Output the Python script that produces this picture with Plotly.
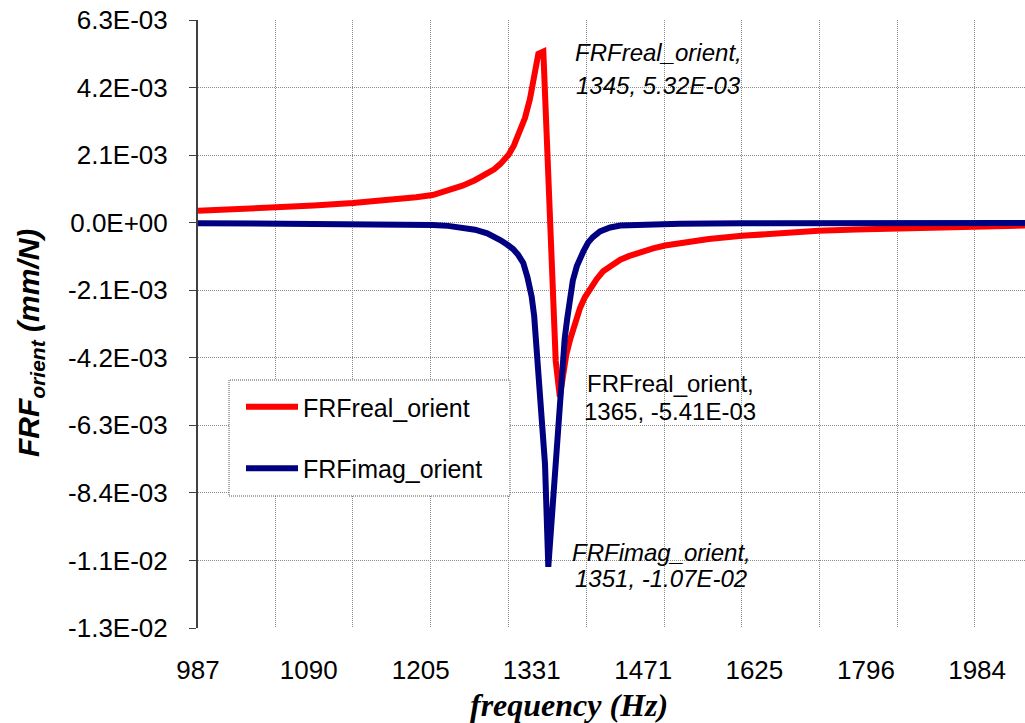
import plotly.graph_objects as go
import math

# ---- data ----
freq_real = [987, 1020, 1058, 1095, 1134, 1160, 1180, 1200, 1218, 1235, 1251, 1265, 1279, 1287,
             1294, 1299, 1304, 1310, 1317, 1323, 1329, 1334, 1339, 1345,
             1360, 1365, 1369, 1373, 1378, 1384, 1390, 1396, 1403, 1411, 1419, 1430, 1441, 1452,
             1463, 1484, 1500, 1520, 1560, 1607, 1660, 1721, 1780, 1844, 1910, 1977, 2071]
frf_real = [0.37e-3, 0.41e-3, 0.46e-3, 0.53e-3, 0.61e-3, 0.67e-3, 0.72e-3, 0.79e-3, 0.86e-3,
            0.99e-3, 1.15e-3, 1.32e-3, 1.52e-3, 1.66e-3,
            1.82e-3, 1.96e-3, 2.12e-3, 2.40e-3, 2.80e-3, 3.25e-3, 3.85e-3, 4.50e-3, 5.25e-3, 5.32e-3,
            -4.30e-3, -5.41e-3, -4.67e-3, -4.10e-3, -3.60e-3, -3.05e-3, -2.65e-3, -2.32e-3,
            -2.03e-3, -1.75e-3, -1.51e-3, -1.31e-3, -1.15e-3, -1.04e-3,
            -0.95e-3, -0.80e-3, -0.71e-3, -0.64e-3, -0.51e-3, -0.41e-3, -0.32e-3, -0.25e-3,
            -0.21e-3, -0.18e-3, -0.15e-3, -0.12e-3, -0.09e-3]

freq_imag = [987, 1058, 1134, 1180, 1218, 1235, 1251, 1265, 1279, 1287, 1294, 1302, 1309, 1315,
             1321, 1326, 1331, 1334, 1337, 1343, 1347, 1351,
             1357, 1363, 1368, 1371, 1374, 1378, 1381, 1386, 1390, 1394, 1400, 1406, 1415, 1428,
             1441, 1460, 1484, 1520, 1607, 1721, 1844, 1977, 2071]
frf_imag = [-0.015e-3, -0.02e-3, -0.035e-3, -0.05e-3, -0.07e-3, -0.10e-3, -0.15e-3, -0.22e-3,
            -0.33e-3, -0.43e-3, -0.54e-3, -0.68e-3, -0.82e-3, -1.00e-3,
            -1.25e-3, -1.70e-3, -2.30e-3, -2.90e-3, -3.90e-3, -5.70e-3, -7.50e-3, -10.7e-3,
            -8.50e-3, -6.40e-3, -4.45e-3, -3.60e-3, -3.00e-3, -2.30e-3, -1.80e-3, -1.35e-3,
            -1.10e-3, -0.90e-3, -0.62e-3, -0.45e-3, -0.27e-3, -0.15e-3,
            -0.09e-3, -0.065e-3, -0.05e-3, -0.035e-3, -0.02e-3, -0.015e-3, -0.012e-3, -0.01e-3,
            -0.01e-3]

x_label_vals = [987, 1090, 1205, 1331, 1471, 1625, 1796, 1984]
x_grid_vals = [987, 1058, 1134, 1216, 1304, 1398, 1499, 1607, 1723, 1847, 1980]
y_tick_vals = [6.3e-3, 4.2e-3, 2.1e-3, 0.0, -2.1e-3, -4.2e-3, -6.3e-3, -8.4e-3, -10.5e-3, -12.6e-3]
y_tick_text = ["6.3E-03", "4.2E-03", "2.1E-03", "0.0E+00", "-2.1E-03", "-4.2E-03", "-6.3E-03",
               "-8.4E-03", "-1.1E-02", "-1.3E-02"]

# labelled points
peak_real = (1345, 5.32e-3)
min_real = (1365, -5.41e-3)
min_imag = (1351, -1.07e-2)

X_RANGE = [math.log10(987), math.log10(2071)]
Y_RANGE = [-12.6e-3, 6.3e-3]

ARIAL = "Liberation Sans, Arial, sans-serif"
TIMES = "Liberation Serif, Times New Roman, serif"

W, H = 1025, 723
ML, MR, MT, MB = 198, 0, 20, 95
PW, PH = W - ML - MR, H - MT - MB


def px(x):
    return (x - ML) / PW


def py(y):
    return (H - MB - y) / PH


fig = go.Figure()
fig.add_trace(go.Scatter(x=freq_real, y=frf_real, mode="lines", name="FRFreal_orient",
                         line=dict(color="#FF0000", width=6), legendgroup="a",
                         xaxis="x", yaxis="y"))
fig.add_trace(go.Scatter(x=freq_imag, y=frf_imag, mode="lines", name="FRFimag_orient",
                         line=dict(color="#000080", width=6), legendgroup="b",
                         xaxis="x2", yaxis="y"))

grid = dict(gridcolor="#8a8a8a", gridwidth=1, griddash="1px,1px")

fig.update_layout(
    width=W, height=H,
    margin=dict(l=ML, r=MR, t=MT, b=MB),
    paper_bgcolor="white", plot_bgcolor="white",
    font=dict(family=ARIAL, size=24, color="black"),
    showlegend=True,
    legend=dict(x=px(241), y=py(384), xanchor="left", yanchor="top",
                bgcolor="rgba(0,0,0,0)", borderwidth=0,
                font=dict(family=ARIAL, size=25, color="black"),
                traceorder="grouped", tracegroupgap=26, itemwidth=52),
    xaxis=dict(type="log", range=X_RANGE, tickvals=x_grid_vals, showticklabels=False,
               ticks="", showgrid=True, zeroline=False, showline=False, **grid),
    xaxis2=dict(type="log", range=X_RANGE, overlaying="x", anchor="y", side="bottom",
                tickvals=x_label_vals, ticktext=[str(v) for v in x_label_vals],
                showgrid=False, zeroline=False, showline=False, ticks="",
                ticklabelstandoff=24, tickfont=dict(family=ARIAL, size=26, color="black")),
    yaxis=dict(range=Y_RANGE, tickvals=y_tick_vals, ticktext=y_tick_text, showgrid=True,
               zeroline=False, showline=True, linecolor="#404040", linewidth=2,
               ticks="outside", ticklen=7, tickcolor="#404040", tickwidth=1,
               ticklabelstandoff=16, tickfont=dict(family=ARIAL, size=26, color="black"),
               **grid),
)

# legend box (dotted border, white fill)
fig.add_shape(type="rect", xref="paper", yref="paper",
              x0=px(229), x1=px(510), y0=py(496), y1=py(380),
              line=dict(color="#555555", width=1, dash="1px,1px"),
              fillcolor="white", layer="above")

annots = []
# axis titles
annots.append(dict(text="<b><i>frequency (Hz)</i></b>", xref="paper", yref="paper",
                   x=px(569), y=py(705), xanchor="center", yanchor="middle", showarrow=False,
                   font=dict(family=TIMES, size=32, color="black")))
annots.append(dict(text="<b><i>FRF<sub>orient</sub> (mm/N)</i></b>", xref="paper", yref="paper",
                   x=px(30), y=py(343), xanchor="center", yanchor="middle", showarrow=False,
                   textangle=-90, font=dict(family=ARIAL, size=30, color="black")))


def label(name, pt, cx, y1, y2, italic):
    l1 = name + ","
    l2 = f"{pt[0]}, {pt[1]:.2E}"
    if italic:
        l1, l2 = f"<i>{l1}</i>", f"<i>{l2}</i>"
    for t, yy in ((l1, y1), (l2, y2)):
        annots.append(dict(text=t, xref="paper", yref="paper", x=px(cx), y=py(yy),
                           xanchor="center", yanchor="middle", showarrow=False,
                           font=dict(family=ARIAL, size=24, color="black")))


label("FRFreal_orient", peak_real, 658, 53, 85, True)
label("FRFreal_orient", min_real, 670, 383, 411, False)
label("FRFimag_orient", min_imag, 661, 552, 578, True)

fig.update_layout(annotations=annots)

fig.write_html("out.html")
